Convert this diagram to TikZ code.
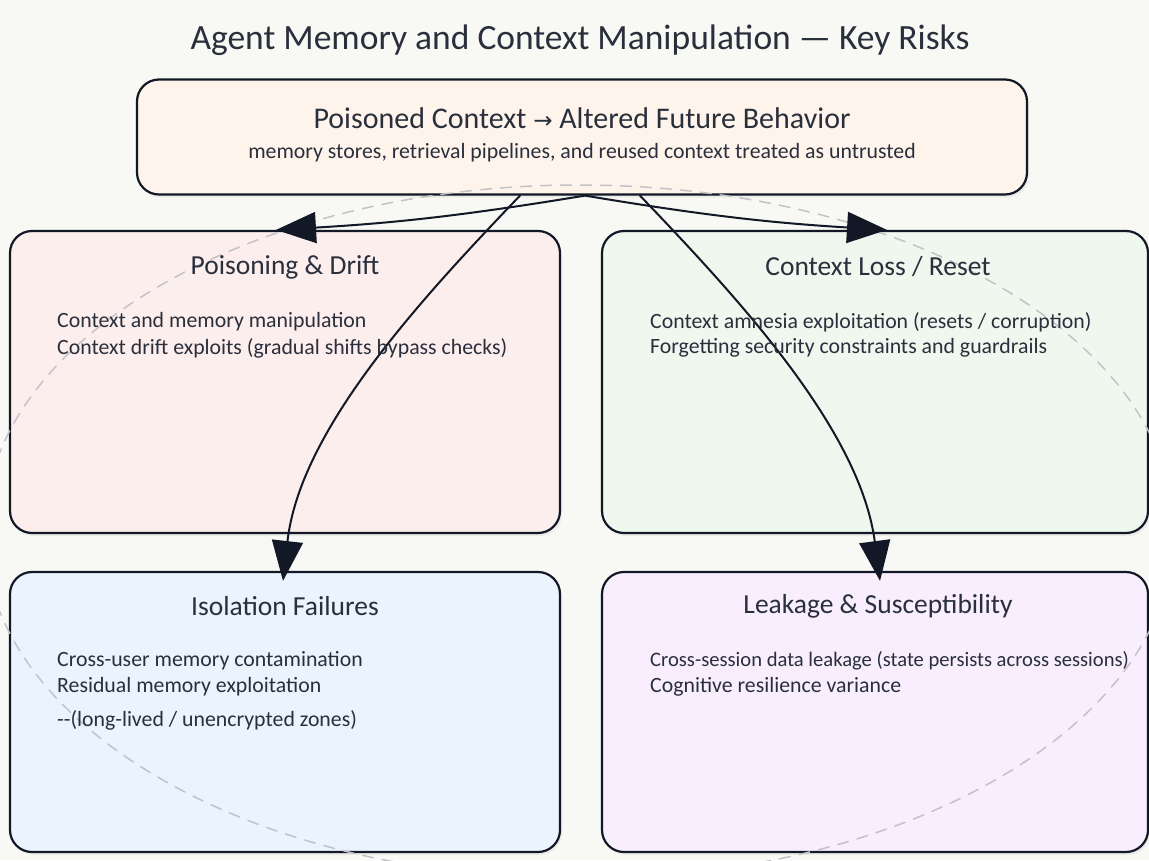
\documentclass[tikz,border=0pt]{standalone}
\usepackage{fontspec}
\setmainfont{Carlito}
\newfontfamily\symfont{DejaVu Sans}
\usetikzlibrary{arrows.meta,shadows}
\definecolor{paper}{HTML}{F8F8F4}
\definecolor{ink}{HTML}{121826}
\definecolor{txt}{HTML}{2A2F3C}
\definecolor{ring}{HTML}{C2C2C9}
\definecolor{topfill}{HTML}{FEF4EC}
\definecolor{pdfill}{HTML}{FDEEEE}
\definecolor{clfill}{HTML}{EFF8EF}
\definecolor{iffill}{HTML}{EAF3FE}
\definecolor{lsfill}{HTML}{F8EEFD}
\begin{document}
\begin{tikzpicture}[x=1pt,y=-1pt,line join=round,line cap=round,
  box/.style={draw=ink,line width=2.2pt,rounded corners=22pt,inner sep=0pt,
    drop shadow={opacity=0.10,shadow xshift=2pt,shadow yshift=-3pt}},
  head/.style={text=txt,font=\fontsize{27.5}{32}\selectfont},
  item/.style={text=txt,anchor=west,inner xsep=0pt,font=\fontsize{21.8}{26}\selectfont},
  link/.style={draw=ink,line width=2pt,-{Triangle[length=40pt,width=31pt]}}]
  % paper
  \fill[paper] (0,0) rectangle (1149,860);
  \useasboundingbox (0,0) rectangle (1149,860);
  \node[text=txt,font=\fontsize{35.5}{40}\selectfont] (title) at (580,40)
    {Agent Memory and Context Manipulation — Key Risks};
  % boxes
  \node[box,fill=topfill,minimum width=890pt,minimum height=115pt] (ctx) at (582,137) {};
  \node[box,fill=pdfill,minimum width=550pt,minimum height=302pt] (pd) at (285,382) {};
  \node[box,fill=clfill,minimum width=546pt,minimum height=302pt] (cl) at (875,382) {};
  \node[box,fill=iffill,minimum width=550pt,minimum height=280pt] (if) at (285,712) {};
  \node[box,fill=lsfill,minimum width=546pt,minimum height=280pt] (ls) at (875,712) {};
  % dashed ring
  \begin{scope}
    \clip (0,0) rectangle (1149,860);
    \draw[ring,line width=1.5pt,dash pattern=on 11pt off 9pt] (579,532) ellipse (595 and 347);
  \end{scope}
  % links
  \draw[link] ([xshift=3pt]ctx.south) to[bend left=3] ([xshift=-9pt]pd.north);
  \draw[link] ([xshift=3pt]ctx.south) to[bend right=3] ([xshift=12pt]cl.north);
  \draw[link] ([xshift=-62pt]ctx.south) .. controls (420,300) and (300,430) .. ([xshift=-2pt,yshift=-10pt]if.north);
  \draw[link] ([xshift=58pt]ctx.south) .. controls (740,300) and (860,430) .. ([xshift=5pt,yshift=-10pt]ls.north);
  % texts
  \node[text=txt,font=\fontsize{30}{35}\selectfont] (ctxh) at (582,118)
    {Poisoned Context {\symfont\fontsize{23}{28}\selectfont →} Altered Future Behavior};
  \node[text=txt,font=\fontsize{21.8}{26}\selectfont] (ctxs) at (582,153)
    {memory stores, retrieval pipelines, and reused context treated as untrusted};
  \node[head] (pdh) at (285,267) {Poisoning \& Drift};
  \node[head] (clh) at (878,267) {Context Loss / Reset};
  \node[head] (ifh) at (285,606) {Isolation Failures};
  \node[head] (lsh) at (878,606) {Leakage \& Susceptibility};
  \foreach \t/\x/\y in {{Context and memory manipulation}/57/322,
      {Context drift exploits (gradual shifts bypass checks)}/57/348,
      {Context amnesia exploitation (resets / corruption)}/650/322,
      {Forgetting security constraints and guardrails}/650/348,
      {Cross-user memory contamination}/57/661,
      {Residual memory exploitation}/57/687,
      {-{}-(long-lived / unencrypted zones)}/57/720,
      {Cognitive resilience variance}/650/687}
    \node[item] at (\x,\y) {\t};
  \node[item,font=\fontsize{20.6}{25}\selectfont] (lsa) at (650,661)
    {Cross-session data leakage (state persists across sessions)};
\end{tikzpicture}
\end{document}
